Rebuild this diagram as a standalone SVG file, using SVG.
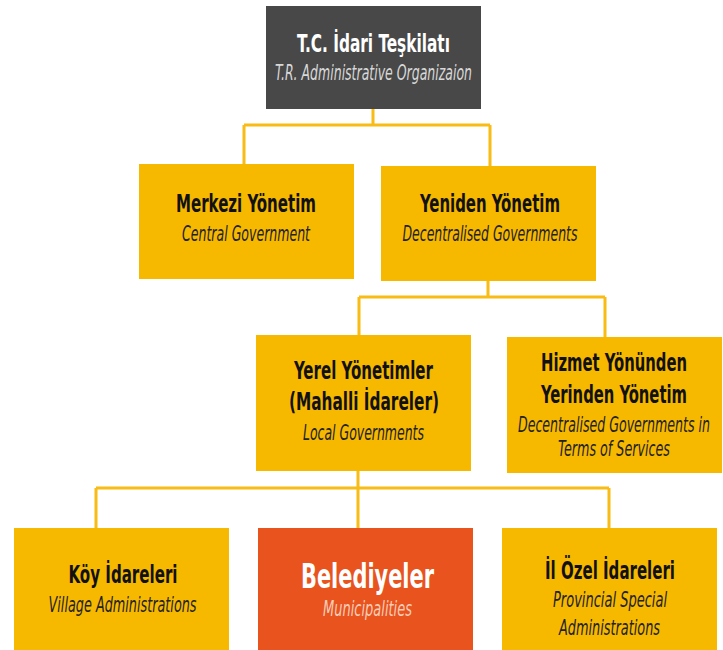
<svg xmlns="http://www.w3.org/2000/svg" width="723" height="650" viewBox="0 0 723 650">
<style>
.box{fill:#F7B800}
.dark{fill:#484848}
.red{fill:#E8531E}
.b{font-family:"Liberation Sans Narrow","DejaVu Sans Condensed","Liberation Sans",sans-serif;font-weight:bold;font-size:25px;fill:#111;text-anchor:middle}
.i{font-family:"Liberation Sans Narrow","DejaVu Sans Condensed","Liberation Sans",sans-serif;font-style:italic;font-size:22px;fill:#222;text-anchor:middle}
.w{fill:#fff}
.lg{fill:#d8d8d8}
.pk{fill:#f8cdb8}
.con path{fill:none;stroke:#F8BC14;stroke-width:3}
</style>
<rect width="723" height="650" fill="#fff"/>
<g class="con" id="connectors">
<path d="M373,109V125M244,125H490M244,125V164M490,125V166"/>
<path d="M488,281V297M359,297H605M359,297V335M605,297V337"/>
<path d="M358,471V528M96,488H609M96,488V528M609,488V528"/>
</g>
<g id="root">
<rect class="dark" x="266" y="6" width="215" height="103"/>
<g transform="scale(0.65,1)">
<text class="b w" x="574.6" y="52" textLength="235.4" lengthAdjust="spacingAndGlyphs">T.C. İdari Teşkilatı</text>
<text class="i lg" x="574.6" y="80" textLength="303.1" lengthAdjust="spacingAndGlyphs">T.R. Administrative Organizaion</text>
</g>
</g>
<g id="merkezi">
<rect class="box" x="139" y="164" width="215" height="115"/>
<g transform="scale(0.65,1)">
<text class="b" x="378.5" y="212.5" textLength="215.4" lengthAdjust="spacingAndGlyphs">Merkezi Yönetim</text>
<text class="i" x="378.5" y="241.5" textLength="196.9" lengthAdjust="spacingAndGlyphs">Central Government</text>
</g>
</g>
<g id="yeniden">
<rect class="box" x="381" y="166" width="215" height="115"/>
<g transform="scale(0.65,1)">
<text class="b" x="753.8" y="212.5" textLength="215.4" lengthAdjust="spacingAndGlyphs">Yeniden Yönetim</text>
<text class="i" x="753.8" y="241.5" textLength="269.2" lengthAdjust="spacingAndGlyphs">Decentralised Governments</text>
</g>
</g>
<g id="yerel">
<rect class="box" x="256" y="335" width="215" height="136"/>
<g transform="scale(0.65,1)">
<text class="b" x="559.2" y="379" textLength="213.8" lengthAdjust="spacingAndGlyphs">Yerel Yönetimler</text>
<text class="b" x="560" y="410" textLength="230.8" lengthAdjust="spacingAndGlyphs">(Mahalli İdareler)</text>
<text class="i" x="559.2" y="440" textLength="186.2" lengthAdjust="spacingAndGlyphs">Local Governments</text>
</g>
</g>
<g id="hizmet">
<rect class="box" x="507" y="337" width="215" height="136"/>
<g transform="scale(0.65,1)">
<text class="b" x="944.6" y="371" textLength="224.6" lengthAdjust="spacingAndGlyphs">Hizmet Yönünden</text>
<text class="b" x="944.6" y="403" textLength="224.6" lengthAdjust="spacingAndGlyphs">Yerinden Yönetim</text>
<text class="i" x="944.6" y="432" textLength="295.4" lengthAdjust="spacingAndGlyphs">Decentralised Governments in</text>
<text class="i" x="944.6" y="456" textLength="172.3" lengthAdjust="spacingAndGlyphs">Terms of Services</text>
</g>
</g>
<g id="koy">
<rect class="box" x="14" y="528" width="215" height="122"/>
<g transform="scale(0.65,1)">
<text class="b" x="189.2" y="583.5" textLength="167.7" lengthAdjust="spacingAndGlyphs">Köy İdareleri</text>
<text class="i" x="188.5" y="612" textLength="227.7" lengthAdjust="spacingAndGlyphs">Village Administrations</text>
</g>
</g>
<g id="belediyeler">
<rect class="red" x="258" y="528" width="215" height="122"/>
<g transform="scale(0.65,1)">
<text class="b w" x="565.4" y="588" style="font-size:33px" textLength="204.6" lengthAdjust="spacingAndGlyphs">Belediyeler</text>
<text class="i pk" x="565.4" y="616.5" textLength="136.9" lengthAdjust="spacingAndGlyphs">Municipalities</text>
</g>
</g>
<g id="ilozel">
<rect class="box" x="502" y="528" width="215" height="122"/>
<g transform="scale(0.65,1)">
<text class="b" x="938.5" y="579" textLength="200" lengthAdjust="spacingAndGlyphs">İl Özel İdareleri</text>
<text class="i" x="938.5" y="607" textLength="175.4" lengthAdjust="spacingAndGlyphs">Provincial Special</text>
<text class="i" x="937.7" y="635" textLength="155.4" lengthAdjust="spacingAndGlyphs">Administrations</text>
</g>
</g>
</svg>
